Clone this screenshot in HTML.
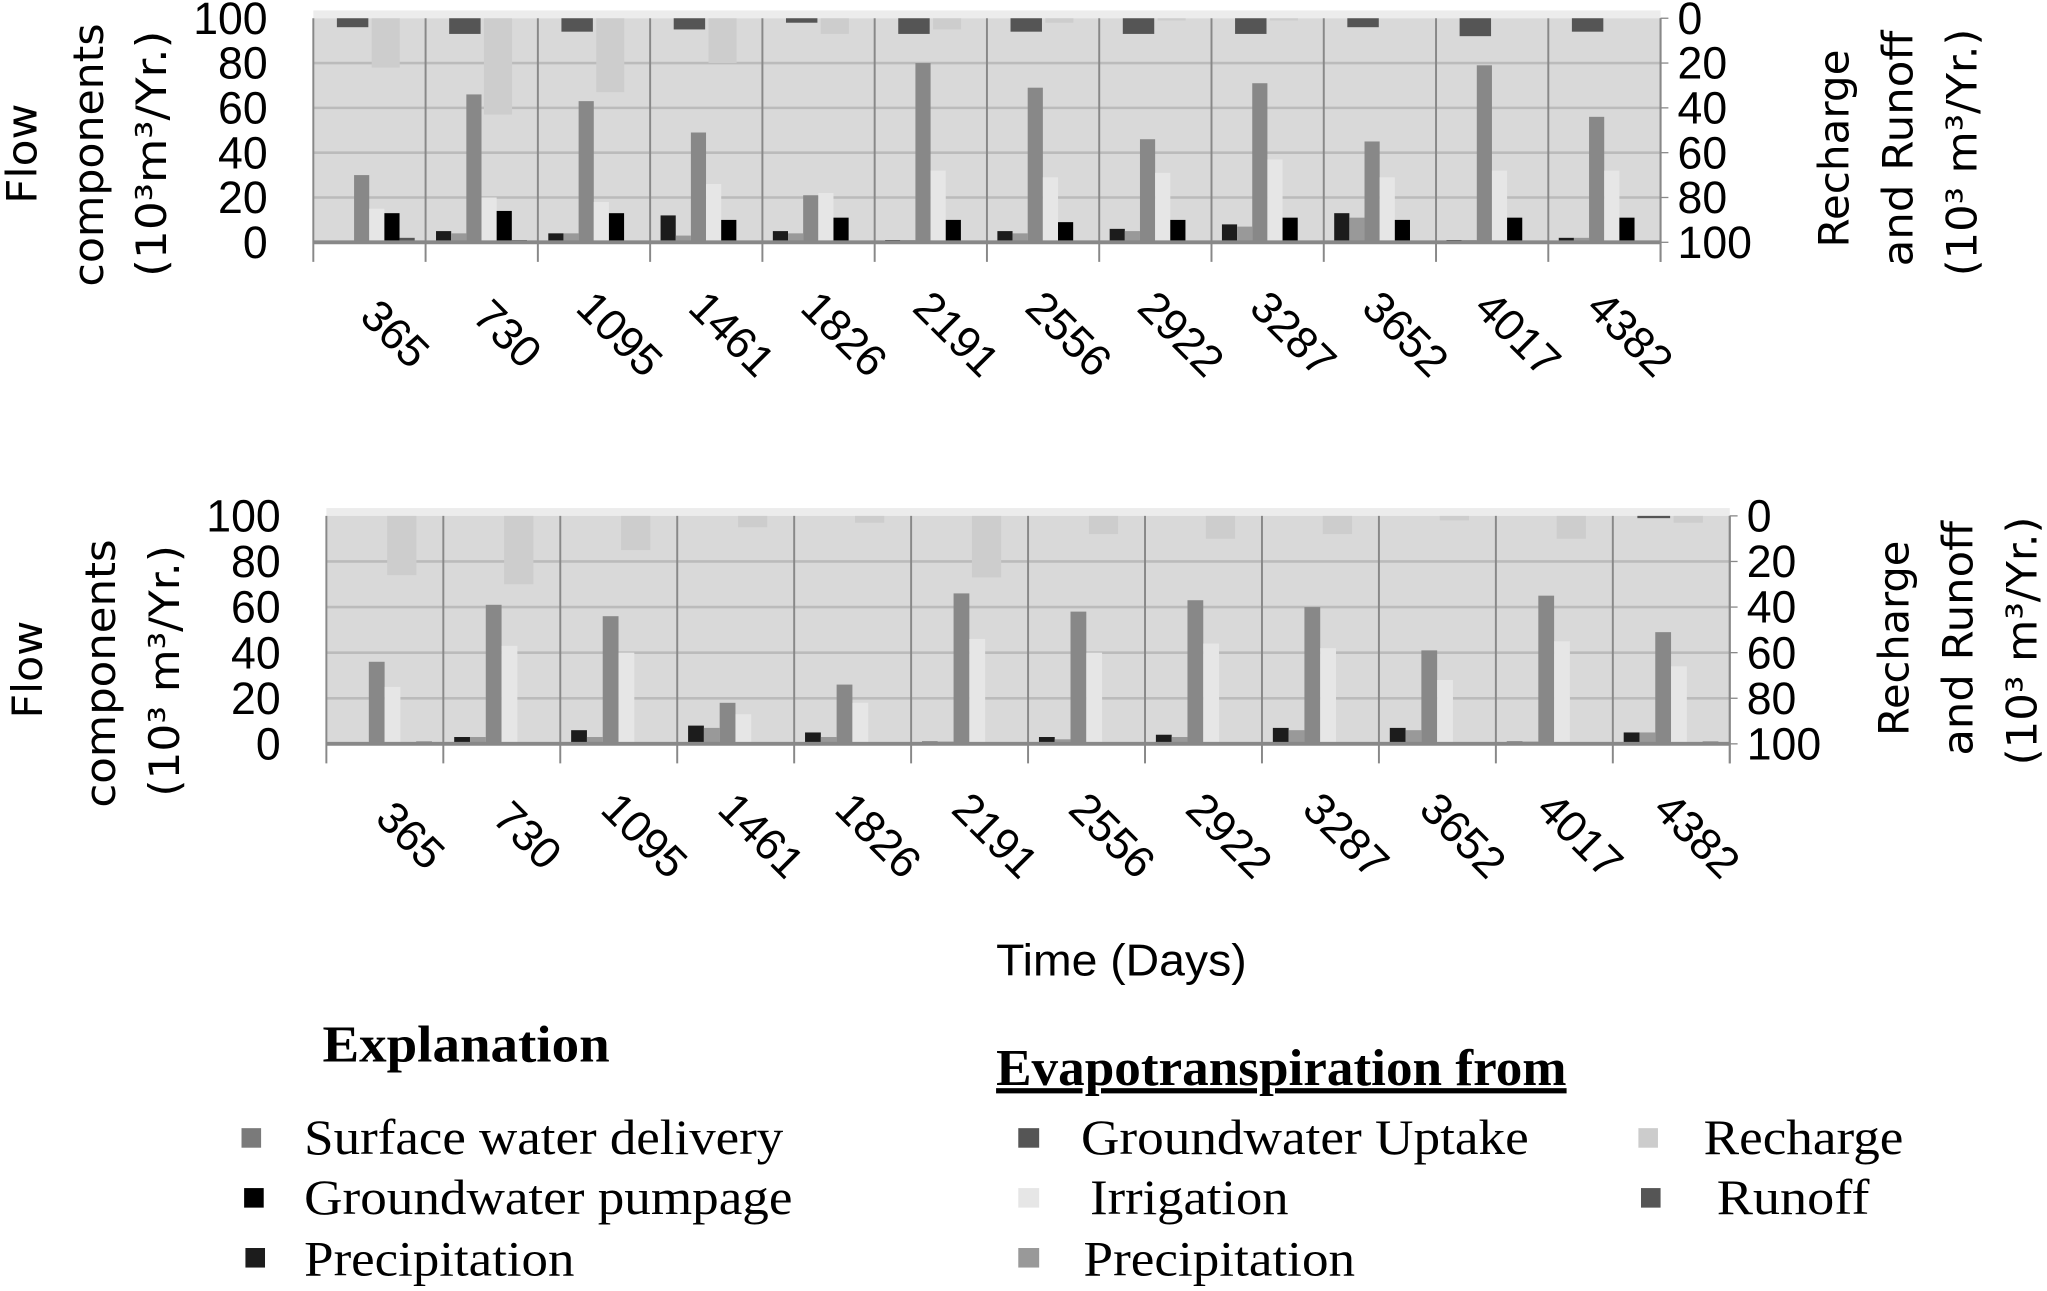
<!DOCTYPE html>
<html><head><meta charset="utf-8"><style>
html,body{margin:0;padding:0;background:#fff;}
svg{display:block;}
.t{font-family:"Liberation Sans",sans-serif;fill:#000;}
.d{font-family:"DejaVu Sans","Liberation Sans",sans-serif;fill:#000;}
.s{font-family:"Liberation Serif",serif;fill:#000;}
</style></head><body>
<svg id="c" width="2047" height="1291" viewBox="0 0 1568 991" preserveAspectRatio="none" xmlns="http://www.w3.org/2000/svg">
<text class="s" x="247" y="815" font-size="40" font-weight="bold" textLength="220" lengthAdjust="spacingAndGlyphs">Explanation</text>
<text class="s" x="763" y="833" font-size="40" font-weight="bold" text-decoration="underline" textLength="437" lengthAdjust="spacingAndGlyphs">Evapotranspiration from</text>
<rect x="185" y="866" width="15" height="15" fill="#7a7a7a"/>
<text class="s" x="233" y="886" font-size="38" textLength="367" lengthAdjust="spacingAndGlyphs">Surface water delivery</text>
<rect x="187" y="912" width="15" height="15" fill="#000"/>
<text class="s" x="233" y="932" font-size="38" textLength="374" lengthAdjust="spacingAndGlyphs">Groundwater pumpage</text>
<rect x="188" y="958" width="15" height="15" fill="#1c1c1c"/>
<text class="s" x="233" y="979" font-size="38" textLength="207" lengthAdjust="spacingAndGlyphs">Precipitation</text>
<rect x="780" y="866" width="16" height="15" fill="#555"/>
<text class="s" x="828" y="886" font-size="38" textLength="343" lengthAdjust="spacingAndGlyphs">Groundwater Uptake</text>
<rect x="780" y="912" width="16" height="15" fill="#e6e6e6"/>
<text class="s" x="835" y="932" font-size="38" textLength="152" lengthAdjust="spacingAndGlyphs">Irrigation</text>
<rect x="780" y="958" width="16" height="15" fill="#999"/>
<text class="s" x="830" y="979" font-size="38" textLength="208" lengthAdjust="spacingAndGlyphs">Precipitation</text>
<rect x="1255" y="866" width="15" height="15" fill="#ccc"/>
<text class="s" x="1305" y="886" font-size="38" textLength="153" lengthAdjust="spacingAndGlyphs">Recharge</text>
<rect x="1257" y="912" width="15" height="15" fill="#555"/>
<text class="s" x="1315" y="932" font-size="38" textLength="117" lengthAdjust="spacingAndGlyphs">Runoff</text>
<text class="t" x="763" y="749" font-size="34" textLength="192" lengthAdjust="spacingAndGlyphs">Time (Days)</text>
</svg>
<script>
var NS="http://www.w3.org/2000/svg",svg=document.getElementById('c');
function el(n,a,txt){var e=document.createElementNS(NS,n);for(var k in a)e.setAttribute(k,a[k]);if(txt!=null)e.textContent=txt;svg.appendChild(e);return e;}
var labels=["365","730","1095","1461","1826","2191","2556","2922","3287","3652","4017","4382"];
var cols=["#1c1c1c","#999","#888","#e6e6e6","#000","#555"];
function vt(x,cy,len,txt){el('text',{'class':'d',x:x,y:cy,'font-size':32,'text-anchor':'middle',textLength:len,lengthAdjust:'spacingAndGlyphs',transform:'rotate(-90 '+x+' '+cy+')'},txt);}
function chart(L,R,Y100,Y0,data,ro,rc){
 var w=(R-L)/12,u=(Y0-Y100)/100;
 el('rect',{x:L,y:Y100-6,width:R-L,height:6,fill:'#ececec'});
 el('rect',{x:L,y:Y100,width:R-L,height:Y0-Y100,fill:'#d9d9d9'});
 for(var g=1;g<=4;g++){var y=Y0-g*20*u;el('line',{x1:L,x2:R,y1:y,y2:y,stroke:'#bbb','stroke-width':2});}
 for(var i=0;i<12;i++){
  var cl=L+i*w,bw=w*0.135,x0=cl+w*0.093;
  for(var j=0;j<6;j++){var v=data[i][j];if(v>0)el('rect',{x:x0+j*bw,y:Y0-v*u,width:bw,height:v*u,fill:cols[j]});}
  if(ro[i]>0)el('rect',{x:cl+w*0.21,y:Y100,width:w*0.28,height:ro[i]*u,fill:'#555'});
  if(rc[i]>0)el('rect',{x:cl+w*0.52,y:Y100,width:w*0.25,height:rc[i]*u,fill:'#cdcdcd'});
  var cx=cl+w/2+20,cy=Y0+70;
  el('text',{'class':'t',x:cx,y:cy+12,'font-size':34,'text-anchor':'middle',transform:'rotate(45 '+cx+' '+cy+')'},labels[i]);
 }
 for(var i=0;i<=12;i++){var x=L+i*w;el('line',{x1:x,x2:x,y1:Y100,y2:Y0+15,stroke:'#888','stroke-width':1.5});}
 el('line',{x1:L,x2:R,y1:Y0,y2:Y0,stroke:'#888','stroke-width':3});
 el('line',{x1:R,x2:R,y1:Y100,y2:Y0+15,stroke:'#888','stroke-width':1.5});
 for(var g=0;g<=5;g++){var y=Y0-g*20*u,lab=String(g*20);
  el('text',{'class':'t',x:L-35,y:y+12,'font-size':35,'text-anchor':'end',textLength:lab.length*19,lengthAdjust:'spacingAndGlyphs'},lab);
  var rl=String(100-g*20);
  el('text',{'class':'t',x:R+13,y:y+12,'font-size':35,textLength:rl.length*19,lengthAdjust:'spacingAndGlyphs'},rl);
  el('line',{x1:R,x2:R+6,y1:y,y2:y,stroke:'#888'});
 }
}
chart(240,1272,14,186,
[[0,0,30,15,13,2],[5,4,66,20,14,1],[4,4,63,18,13,0],[12,3,49,26,10,0],[5,4,21,22,11,0],[1,1,80,32,10,0],[5,4,69,29,9,0],[6,5,46,31,10,0],[8,7,71,37,11,0],[13,11,45,29,10,0],[1,1,79,32,11,0],[2,2,56,32,11,0]],
[4,7,6,5,2,7,6,7,7,4,8,6],[22,43,33,20,7,5,2,1,1,0,0,0]);
chart(250,1325,396,571,
[[0,0,36,25,0,1],[3,3,61,43,0,0],[6,3,56,40,0,0],[8,7,18,13,0,0],[5,3,26,18,0,0],[1,1,66,46,0,0],[3,2,58,40,0,0],[4,3,63,44,0,0],[7,6,60,42,0,0],[7,6,41,28,0,0],[1,1,65,45,0,0],[5,5,49,34,0,1]],
[0,0,0,0,0,0,0,0,0,0,0,1],[26,30,15,5,3,27,8,10,8,2,10,3]);
vt(28,118,77,"Flow");vt(79,119,202,"components");vt(127,118,189,"(10³m³/Yr.)");
vt(1416,114,152,"Recharge");vt(1465,114,181,"and Runoff");vt(1514,117,190,"(10³ m³/Yr.)");
vt(32,514,75,"Flow");vt(88,517,206,"components");vt(137,515,193,"(10³ m³/Yr.)");
vt(1462,490,150,"Recharge");vt(1511,490,180,"and Runoff");vt(1560,492,191,"(10³ m³/Yr.)");
</script>
</body></html>
